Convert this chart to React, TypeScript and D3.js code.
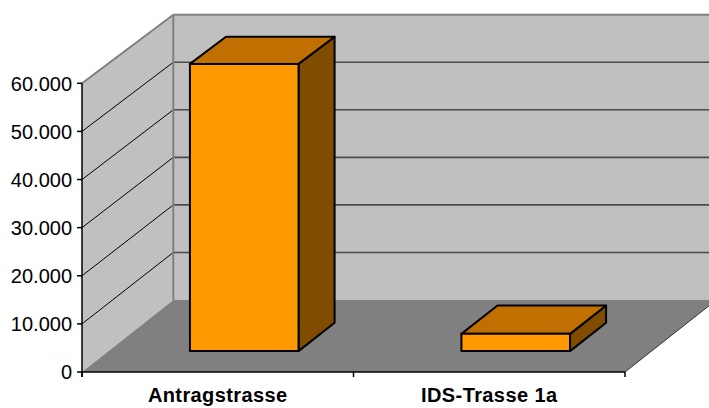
import React from "react";
import * as d3 from "d3";

const categories = ["Antragstrasse", "IDS-Trasse 1a"];
const values = [59900, 3600];
const tickValues = [0, 10000, 20000, 30000, 40000, 50000, 60000];
const tickLabels = ["0", "10.000", "20.000", "30.000", "40.000", "50.000", "60.000"];

const W = 709;
const H = 408;
const X0 = 82;
const X1 = 625;
const DX = 91.3;
const D0 = 0.29;
const D1 = 0.685;
const BAR_FRAC = 0.4;

export default function App() {
  const yFront = d3.scaleLinear().domain([0, 60000]).range([372, 83.3]);
  const yBack = d3.scaleLinear().domain([0, 60000]).range([300, 14.7]);
  const x = d3.scaleBand<string>().domain(categories).range([X0, X1]).padding(0);
  const bw = x.bandwidth();
  const barW = bw * BAR_FRAC;
  const P = (xp: number, v: number, d: number): number[] => [xp + d * DX, yFront(v) * (1 - d) + yBack(v) * d];
  const pts = (p: number[][]) => p.map((q) => q.join(",")).join(" ");
  const BX = X0 + DX;

  const leftWall = [P(X0, 60000, 0), P(X0, 60000, 1), P(X0, 0, 1), P(X0, 0, 0)];
  const backWall = [[BX, yBack(60000)], [W + 20, yBack(60000)], [W + 20, yBack(0)], [BX, yBack(0)]];
  const floor = [P(X0, 0, 0), P(X0, 0, 1), P(X1, 0, 1), P(X1, 0, 0)];

  return (
    <div style={{ position: "absolute", left: 0, top: 0 }}>
      <svg width={W} height={H} style={{ display: "block" }} fontFamily="'Liberation Sans', Arial, sans-serif">
        <rect x={0} y={0} width={W} height={H} fill="#fff" />
        <polygon points={pts(leftWall)} fill="#c0c0c0" />
        <polygon points={pts(backWall)} fill="#c0c0c0" />
        <polygon points={pts(floor)} fill="#808080" />
        {tickValues.slice(1, -1).map((v) => (
          <g key={"g" + v}>
            <line x1={X0} y1={yFront(v)} x2={BX} y2={yBack(v)} stroke="#000" strokeWidth={1} />
            <line x1={BX} y1={yBack(v)} x2={W + 20} y2={yBack(v)} stroke="#4a4a4a" strokeWidth={1.6} />
          </g>
        ))}
        <line x1={X0} y1={yFront(60000)} x2={BX} y2={yBack(60000)} stroke="#808080" strokeWidth={2} />
        <line x1={BX} y1={yBack(60000)} x2={W + 20} y2={yBack(60000)} stroke="#808080" strokeWidth={2} />
        <line x1={BX} y1={yBack(60000)} x2={BX} y2={yBack(0)} stroke="#808080" strokeWidth={2} />
        <line x1={X1} y1={yFront(0)} x2={X1 + DX} y2={yBack(0)} stroke="#333" strokeWidth={1} />
        {categories.map((c, i) => {
          const L = (x(c) as number) + bw / 2 - barW / 2;
          const R = L + barW;
          const v = values[i];
          const front = [P(L, v, D0), P(R, v, D0), P(R, 0, D0), P(L, 0, D0)];
          const top = [P(L, v, D0), P(R, v, D0), P(R, v, D1), P(L, v, D1)];
          const side = [P(R, v, D0), P(R, v, D1), P(R, 0, D1), P(R, 0, D0)];
          return (
            <g key={c} stroke="#000" strokeWidth={2} strokeLinejoin="round">
              <polygon points={pts(side)} fill="#7f4c00" />
              <polygon points={pts(top)} fill="#bf7000" />
              <polygon points={pts(front)} fill="#ff9900" />
            </g>
          );
        })}
        <line x1={X0} y1={yFront(60000)} x2={X0} y2={yFront(0) + 5} stroke="#000" strokeWidth={1.5} />
        <line x1={X0} y1={yFront(0)} x2={X1} y2={yFront(0)} stroke="#000" strokeWidth={1.5} />
        {tickValues.map((v, i) => (
          <g key={"t" + v}>
            <line x1={X0 - 5} y1={yFront(v)} x2={X0} y2={yFront(v)} stroke="#000" strokeWidth={1.5} />
            <text x={72} y={yFront(v)} dy="0.36em" textAnchor="end" fontSize={20} fill="#000">
              {tickLabels[i]}
            </text>
          </g>
        ))}
        {[X0, ...categories.map((c) => (x(c) as number) + bw)].map((tx, i) => (
          <line key={"xt" + i} x1={tx} y1={yFront(0)} x2={tx} y2={yFront(0) + 5} stroke="#000" strokeWidth={1.5} />
        ))}
        {categories.map((c) => (
          <text key={"l" + c} x={(x(c) as number) + bw / 2} y={401.5} textAnchor="middle" fontSize={20} letterSpacing={0.4} fontWeight="bold" fill="#000">
            {c}
          </text>
        ))}
      </svg>
    </div>
  );
}
